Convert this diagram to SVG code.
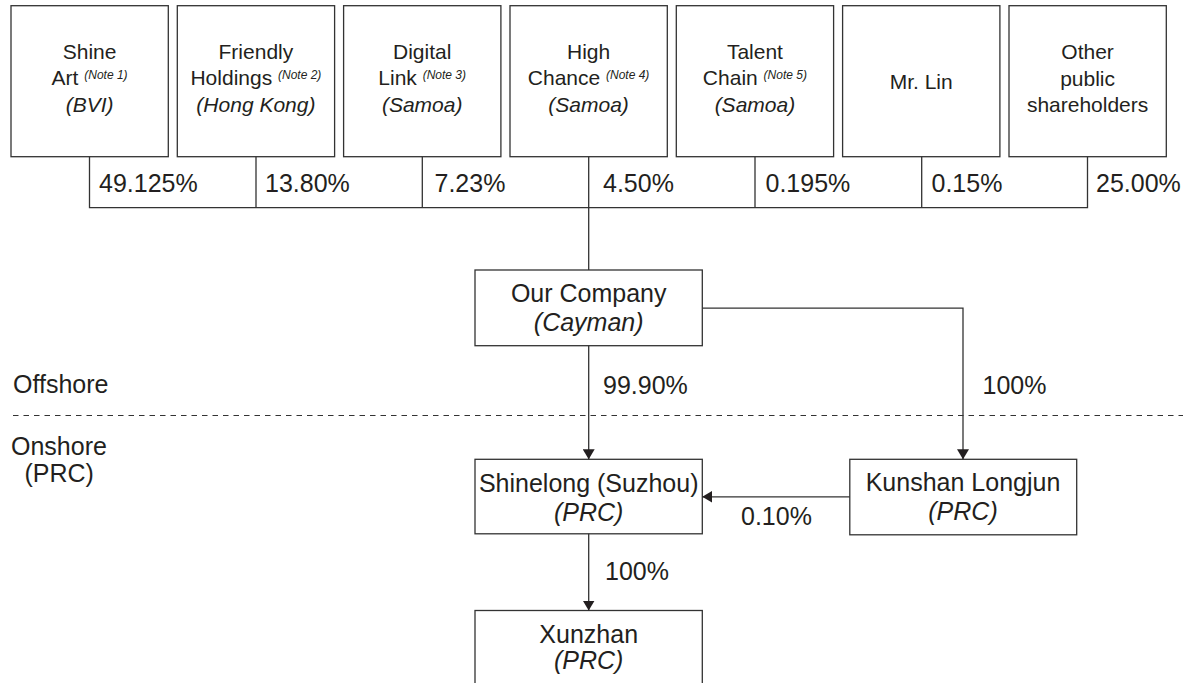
<svg xmlns="http://www.w3.org/2000/svg" width="1186" height="683" viewBox="0 0 1186 683">
<style>
  .box{fill:#fff;stroke:#333;stroke-width:1.3}
  .ln{fill:none;stroke:#333;stroke-width:1.3}
  .t{font-family:"Liberation Sans",Arial,sans-serif;fill:#231f20}
  .top{font-size:21px;text-anchor:middle}
  .big{font-size:25px}
  .mid{text-anchor:middle}
  .it{font-style:italic}
  .note{font-size:12px;font-style:italic}
  .dash{fill:none;stroke:#333;stroke-width:1.2;stroke-dasharray:5.5,5}
</style>
<defs>
  <marker id="arr" markerUnits="userSpaceOnUse" markerWidth="10" markerHeight="12" refX="10" refY="6" orient="auto">
    <path d="M0,0 L10,6 L0,12 Z" fill="#231f20"/>
  </marker>
</defs>
<rect width="1186" height="683" fill="#fff"/>

<g id="shine-art">
  <rect class="box" x="11" y="5.7" width="157.3" height="151"/>
  <text class="t top" x="89.6" y="58.5">Shine</text>
  <text class="t top" x="89.6" y="85">Art <tspan class="note" dy="-6">(Note 1)</tspan></text>
  <text class="t top it" x="89.6" y="111.5">(BVI)</text>
</g>
<g id="friendly-holdings">
  <rect class="box" x="177.3" y="5.7" width="157.3" height="151"/>
  <text class="t top" x="255.9" y="58.5">Friendly</text>
  <text class="t top" x="255.9" y="85">Holdings <tspan class="note" dy="-6">(Note 2)</tspan></text>
  <text class="t top it" x="255.9" y="111.5">(Hong Kong)</text>
</g>
<g id="digital-link">
  <rect class="box" x="343.6" y="5.7" width="157.3" height="151"/>
  <text class="t top" x="422.2" y="58.5">Digital</text>
  <text class="t top" x="422.2" y="85">Link <tspan class="note" dy="-6">(Note 3)</tspan></text>
  <text class="t top it" x="422.2" y="111.5">(Samoa)</text>
</g>
<g id="high-chance">
  <rect class="box" x="510" y="5.7" width="157.3" height="151"/>
  <text class="t top" x="588.6" y="58.5">High</text>
  <text class="t top" x="588.6" y="85">Chance <tspan class="note" dy="-6">(Note 4)</tspan></text>
  <text class="t top it" x="588.6" y="111.5">(Samoa)</text>
</g>
<g id="talent-chain">
  <rect class="box" x="676.3" y="5.7" width="157.3" height="151"/>
  <text class="t top" x="754.9" y="58.5">Talent</text>
  <text class="t top" x="754.9" y="85">Chain <tspan class="note" dy="-6">(Note 5)</tspan></text>
  <text class="t top it" x="754.9" y="111.5">(Samoa)</text>
</g>
<g id="mr-lin">
  <rect class="box" x="842.6" y="5.7" width="157.3" height="151"/>
  <text class="t top" x="921.2" y="89">Mr. Lin</text>
</g>
<g id="other-public">
  <rect class="box" x="1009" y="5.7" width="157.3" height="151"/>
  <text class="t top" x="1087.6" y="59">Other</text>
  <text class="t top" x="1087.6" y="85.5">public</text>
  <text class="t top" x="1087.6" y="111.5">shareholders</text>
</g>

<g id="our-company">
  <rect class="box" x="475" y="270" width="227.3" height="75.7"/>
  <text class="t big mid" x="588.7" y="302.3">Our Company</text>
  <text class="t big mid it" x="588.7" y="330.7">(Cayman)</text>
</g>
<g id="shinelong">
  <rect class="box" x="475" y="459.3" width="227.3" height="74.5"/>
  <text class="t big mid" x="588.7" y="491.5">Shinelong (Suzhou)</text>
  <text class="t big mid it" x="588.7" y="520.5">(PRC)</text>
</g>
<g id="kunshan">
  <rect class="box" x="849.8" y="459.3" width="226.9" height="75.5"/>
  <text class="t big mid" x="963" y="490.7">Kunshan Longjun</text>
  <text class="t big mid it" x="963" y="520">(PRC)</text>
</g>
<g id="xunzhan">
  <rect class="box" x="475" y="610.5" width="227.3" height="90"/>
  <text class="t big mid" x="588.7" y="643.3">Xunzhan</text>
  <text class="t big mid it" x="588.7" y="668.5">(PRC)</text>
</g>

<g id="regions">
  <line class="dash" x1="13" y1="415.5" x2="1183" y2="415.5"/>
  <text class="t big" x="13" y="393">Offshore</text>
  <text class="t big" x="11" y="455">Onshore</text>
  <text class="t big" x="24.5" y="482">(PRC)</text>
</g>

<g id="connectors">
  <path class="ln" d="M89.5,156.7 V207.7 H1087.5 V156.7"/>
  <path class="ln" d="M256,156.7 V207.7 M422.3,156.7 V207.7 M588.7,156.7 V207.7 M755,156.7 V207.7 M921.7,156.7 V207.7"/>
  <line class="ln" x1="588.7" y1="207.7" x2="588.7" y2="270"/>
  <line class="ln" x1="588.7" y1="345.7" x2="588.7" y2="459.3" marker-end="url(#arr)"/>
  <polyline class="ln" points="702.3,308.2 963,308.2 963,459.3" marker-end="url(#arr)"/>
  <line class="ln" x1="849.8" y1="496.8" x2="702.3" y2="496.8" marker-end="url(#arr)"/>
  <line class="ln" x1="588.7" y1="533.8" x2="588.7" y2="610.5" marker-end="url(#arr)"/>
</g>

<g id="percentages">
  <text class="t big" x="99" y="192">49.125%</text>
  <text class="t big" x="265" y="192">13.80%</text>
  <text class="t big" x="434.5" y="192">7.23%</text>
  <text class="t big" x="603" y="192">4.50%</text>
  <text class="t big" x="765.5" y="192">0.195%</text>
  <text class="t big" x="931.5" y="192">0.15%</text>
  <text class="t big" x="1096" y="192">25.00%</text>
  <text class="t big" x="603" y="394">99.90%</text>
  <text class="t big" x="982.5" y="394.3">100%</text>
  <text class="t big" x="741" y="525">0.10%</text>
  <text class="t big" x="605" y="580">100%</text>
</g>
</svg>
